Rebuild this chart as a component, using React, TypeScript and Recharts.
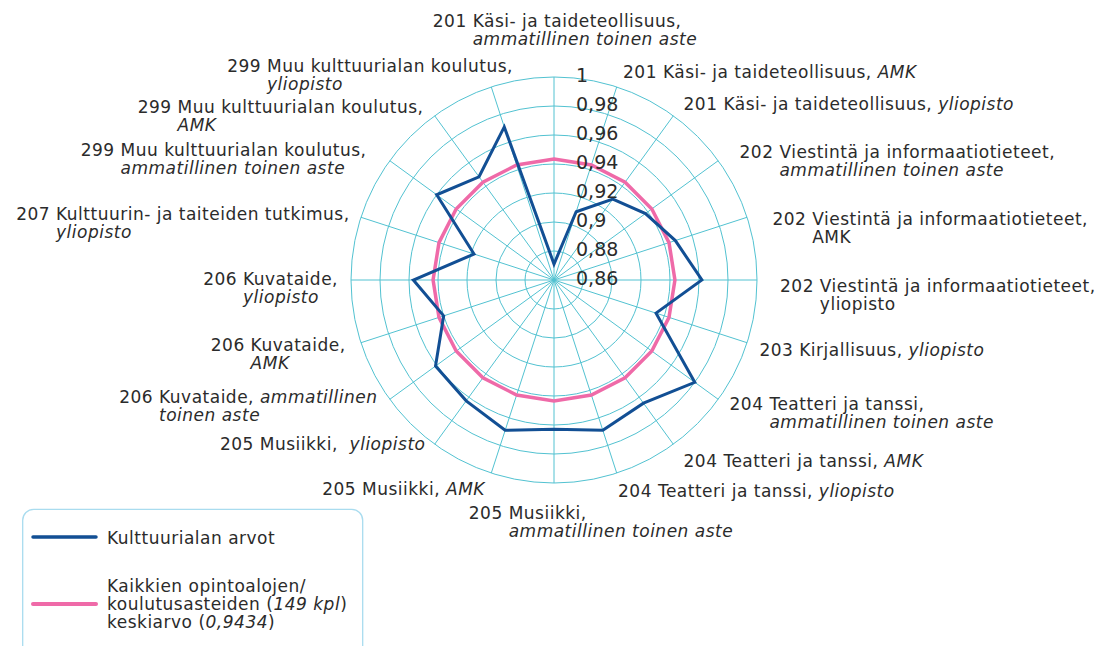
import React from 'react';
import { RadarChart, Radar, PolarGrid, PolarAngleAxis, PolarRadiusAxis } from 'recharts';

// Category labels: '|' = line break, '*...*' = italic part
const categories = [
  '201 Käsi- ja taideteollisuus,|*ammatillinen toinen aste*',
  '201 Käsi- ja taideteollisuus, *AMK*',
  '201 Käsi- ja taideteollisuus, *yliopisto*',
  '202 Viestintä ja informaatiotieteet,|*ammatillinen toinen aste*',
  '202 Viestintä ja informaatiotieteet,|AMK',
  '202 Viestintä ja informaatiotieteet,|yliopisto',
  '203 Kirjallisuus, *yliopisto*',
  '204 Teatteri ja tanssi,|*ammatillinen toinen aste*',
  '204 Teatteri ja tanssi, *AMK*',
  '204 Teatteri ja tanssi, *yliopisto*',
  '205 Musiikki,|*ammatillinen toinen aste*',
  '205 Musiikki, *AMK*',
  '205 Musiikki,  *yliopisto*',
  '206 Kuvataide, *ammatillinen*|*toinen aste*',
  '206 Kuvataide,|*AMK*',
  '206 Kuvataide,|*yliopisto*',
  '207 Kulttuurin- ja taiteiden tutkimus,|*yliopisto*',
  '299 Muu kulttuurialan koulutus,|*ammatillinen toinen aste*',
  '299 Muu kulttuurialan koulutus,|*AMK*',
  '299 Muu kulttuurialan koulutus,|*yliopisto*',
];

const kulttuurialanArvot = [
  0.871, 0.9095, 0.929, 0.938, 0.948, 0.962, 0.934, 0.98, 0.965, 0.969,
  0.963, 0.969, 0.963, 0.961, 0.94, 0.957, 0.918, 0.96, 0.948, 0.971,
];

const keskiarvo = [
  0.9434, 0.9434, 0.9434, 0.9434, 0.9434, 0.9434, 0.9434, 0.9434, 0.9434, 0.9434,
  0.9434, 0.9434, 0.9434, 0.9434, 0.9434, 0.9434, 0.9434, 0.9434, 0.9434, 0.9434,
];

const radiusTicks = [0.86, 0.88, 0.9, 0.92, 0.94, 0.96, 0.98, 1];

const SERIES_NAME = 'Kulttuurialan arvot';

const data = categories.map((name, i) => ({
  name,
  kulttuuri: kulttuurialanArvot[i],
  keskiarvo: keskiarvo[i],
}));

// ── layout ──────────────────────────────────────────────────────────────
const W = 1098;
const H = 646;
const CX = 554;
const CY = 280;
const R = 203;

const BLUE = '#124f94';
const PINK = '#ef6aa8';
const GRID = '#52c2d1';
const TEXT = '#2b2b2b';
const FONT = '"DejaVu Sans", Verdana, sans-serif';
const LABEL_SIZE = 17;
const LETTER = 0.5;

// small hand nudges so the labels sit where the original placed them
const labelNudge = [
  [11, -33], [2, -2], [2, 0], [10, 9], [12, 15], [9, 15], [-1, 3], [0, 5], [2, 5], [-3, 5],
  [47, 25], [-2, 3], [-1, -12], [-1, -2], [-2, 7], [1, 8], [2, 10], [-12, 7], [-3, 12], [26, 1],
];

let measureCtx: CanvasRenderingContext2D | null = null;
function textWidth(s: string, italic: boolean) {
  if (!measureCtx) measureCtx = document.createElement('canvas').getContext('2d');
  if (!measureCtx) return s.length * 9;
  measureCtx.font = `${italic ? 'italic ' : ''}${LABEL_SIZE}px "DejaVu Sans"`;
  (measureCtx as any).letterSpacing = `${LETTER}px`;
  return measureCtx.measureText(s).width;
}

type Seg = { text: string; italic: boolean };

function parseLabel(label: string): Seg[][] {
  return label.split('|').map((line) => {
    const parts = line.split('*');
    return parts
      .map((text, i) => ({ text, italic: i % 2 === 1 }))
      .filter((s) => s.text.length > 0);
  });
}

function AngleTick(props: any) {
  const { x, y, payload, index } = props;
  const lines = parseLabel(String(payload.value));
  const dx = x - CX;
  const dy = y - CY;
  const len = Math.hypot(dx, dy) || 1;
  const ux = dx / len;
  const uy = dy / len;
  const nudge = labelNudge[index] ?? [0, 0];
  const px = x + ux * 6 + nudge[0];
  const py = y + uy * 6 + nudge[1];

  const indent = textWidth('201 ', false);
  const widths = lines.map(
    (segs, li) => (li > 0 ? indent : 0) + segs.reduce((a, s) => a + textWidth(s.text, s.italic), 0)
  );
  const blockW = Math.max(...widths);
  let left: number;
  if (ux > 0.1) left = px;
  else if (ux < -0.1) left = px - blockW;
  else left = px - blockW / 2;

  const firstBase = py - (lines.length - 1) * 9 + 6;

  return (
    <g>
      {lines.map((segs, li) => (
        <text
          key={li}
          x={left + (li > 0 ? indent : 0)}
          y={firstBase + li * 18}
          fontSize={LABEL_SIZE}
          fontFamily={FONT}
          fill={TEXT}
          style={{ whiteSpace: 'pre', letterSpacing: `${LETTER}px` }}
        >
          {segs.map((s, si) => (
            <tspan key={si} fontStyle={s.italic ? 'italic' : 'normal'}>
              {s.text}
            </tspan>
          ))}
        </text>
      ))}
    </g>
  );
}

function RadiusTick(props: any) {
  const { x, y, payload } = props;
  return (
    <text x={x + 22} y={y + 5} fontSize={19} fontFamily={FONT} fill={TEXT}>
      {String(payload.value).replace('.', ',')}
    </text>
  );
}

function LegendBox() {
  return (
    <svg width={W} height={H} style={{ position: 'absolute', left: 0, top: 0, pointerEvents: 'none' }}>
      <rect x={22.7} y={509.3} width={340} height={200} rx={11} fill="none" stroke="#a9dcef" strokeWidth={1.3} />
      <line x1={33} x2={96} y1={537} y2={537} stroke={BLUE} strokeWidth={3.5} strokeLinecap="round" />
      <text x={107} y={544} fontSize={LABEL_SIZE} fontFamily={FONT} fill={TEXT} style={{ letterSpacing: `${LETTER}px` }}>
        {SERIES_NAME}
      </text>
      <line x1={33} x2={96} y1={604} y2={604} stroke={PINK} strokeWidth={4} strokeLinecap="round" />
      <text fontSize={LABEL_SIZE} fontFamily={FONT} fill={TEXT} style={{ whiteSpace: 'pre', letterSpacing: `${LETTER}px` }}>
        <tspan x={107} y={592}>Kaikkien opintoalojen/</tspan>
        <tspan x={107} y={610}>
          koulutusasteiden (<tspan fontStyle="italic">149 kpl</tspan>)
        </tspan>
        <tspan x={107} y={628}>
          keskiarvo (<tspan fontStyle="italic">0,9434</tspan>)
        </tspan>
      </text>
    </svg>
  );
}

export default function App() {
  return (
    <div
      style={{
        position: 'absolute',
        left: 0,
        top: 0,
        width: W,
        height: H,
        overflow: 'hidden',
        background: '#fff',
        fontFamily: FONT,
      }}
    >
      <RadarChart
        width={W}
        height={H}
        cx={CX}
        cy={CY}
        outerRadius={R}
        data={data}
        margin={{ top: 0, right: 0, bottom: 0, left: 0 }}
      >
        <PolarGrid gridType="circle" stroke={GRID} strokeWidth={1} />
        <PolarAngleAxis dataKey="name" tick={AngleTick} tickLine={false} axisLine={false} />
        <PolarRadiusAxis
          angle={90}
          type="number"
          domain={[0.86, 1]}
          ticks={radiusTicks}
          tick={RadiusTick}
          axisLine={false}
          tickLine={false}
          allowDataOverflow
        />
        <Radar
          dataKey="keskiarvo"
          name="Kaikkien opintoalojen/koulutusasteiden (149 kpl) keskiarvo (0,9434)"
          stroke={PINK}
          strokeWidth={3.5}
          fill="none"
          fillOpacity={0}
          dot={false}
          isAnimationActive={false}
        />
        <Radar
          dataKey="kulttuuri"
          name={SERIES_NAME}
          stroke={BLUE}
          strokeWidth={3}
          fill="none"
          fillOpacity={0}
          dot={false}
          isAnimationActive={false}
        />
      </RadarChart>
      <LegendBox />
    </div>
  );
}
